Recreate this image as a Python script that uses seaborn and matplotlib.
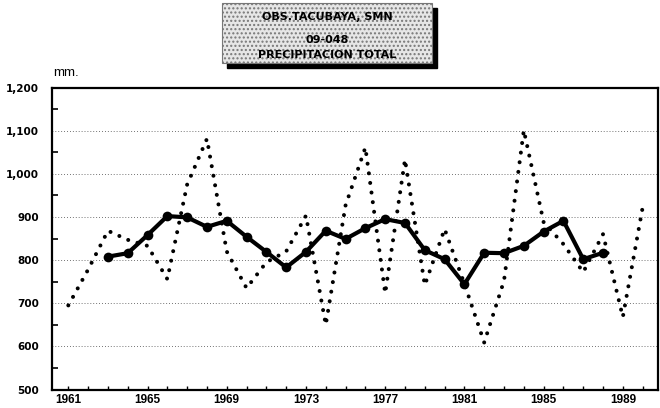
import matplotlib
matplotlib.use("Agg")
import matplotlib.pyplot as plt
import matplotlib.patches as mpatches
import seaborn as sns
import pandas as pd

# annual precipitation (mm)
years = list(range(1961, 1991))
precip = [695, 778, 868, 847, 833, 756, 975, 1081, 820, 735,
          795, 820, 903, 650, 927, 1061, 723, 1033, 742, 872,
          745, 609, 752, 1101, 888, 837, 772, 860, 668, 922]

# 5 year moving average, as drawn (1963-1988)
ma_years = list(range(1963, 1989))
ma_precip = [808, 816, 858, 902, 899, 877, 891, 854, 819, 783,
             819, 868, 849, 874, 895, 886, 823, 802, 744, 817,
             816, 833, 866, 891, 802, 817]

y_ticks = [500, 600, 700, 800, 900, 1000, 1100, 1200]
y_labels = ["500", "600", "700", "800", "900", "1,000", "1,100", "1,200"]
x_labels = [str(y) if (y - 1961) % 4 == 0 else "" for y in years]

title_lines = ["OBS.TACUBAYA, SMN", "09-048", "PRECIPITACION TOTAL"]

annual = pd.DataFrame({"anio": years, "mm": precip})
media = pd.DataFrame({"anio": ma_years, "mm": ma_precip})

sns.set_style("white")
plt.rcParams["text.color"] = "black"
fig = plt.figure(figsize=(6.6, 4.08), dpi=100)
ax = fig.add_axes([0.0783, 0.0453, 0.9182, 0.7402])

# dotted annual series
sns.lineplot(data=annual, x="anio", y="mm", ax=ax, color="black",
             linewidth=2.9, linestyle=(0, (0.01, 2.4)), dash_capstyle="round")
# moving average, thick solid with big dots
sns.lineplot(data=media, x="anio", y="mm", ax=ax, color="black",
             linewidth=3, marker="o", markersize=7, markeredgewidth=0,
             solid_capstyle="round", solid_joinstyle="round")

ax.set_xlim(1960.16, 1990.76)
ax.set_ylim(500, 1200)
ax.set_xlabel("")
ax.set_ylabel("")

ax.set_yticks(y_ticks)
ax.set_yticklabels(y_labels, fontweight="bold", fontsize=7.5, family="DejaVu Sans", color="black")
ax.set_yticks(range(550, 1200, 100), minor=True)
ax.set_xticks(years)
ax.set_xticklabels(x_labels, fontweight="bold", fontsize=8.5, family="Liberation Sans", color="black")

ax.tick_params(axis="y", which="major", direction="in", length=5, width=1.2, pad=9, colors="black")
ax.tick_params(axis="y", which="minor", direction="in", length=4, width=1.2, left=True, colors="black")
ax.tick_params(axis="x", which="major", direction="in", length=3, width=1, pad=3, bottom=True, colors="black")

for gy in y_ticks[1:-1]:
    ax.axhline(gy, color="#444444", linewidth=0.6, linestyle=(0, (1, 2.5)), zorder=0)

for sp in ax.spines.values():
    sp.set_visible(True)
    sp.set_color("black")
    sp.set_linewidth(1.6)

fig.text(0.080, 0.821, "mm.", fontsize=9.5, family="Liberation Sans", va="center", ha="left", color="black")

# title box with shadow
shadow = mpatches.Rectangle((227 / 660, 1 - 68 / 408), 210 / 660, 60 / 408,
                            transform=fig.transFigure, facecolor="black",
                            edgecolor="black", zorder=1)
box = mpatches.Rectangle((222 / 660, 1 - 63 / 408), 210 / 660, 60 / 408,
                         transform=fig.transFigure, facecolor="#e6e6e6",
                         edgecolor="#777777", hatch="....", linewidth=0.8, zorder=2)
fig.patches.extend([shadow, box])
for txt, ty in zip(title_lines, [17, 40, 55]):
    fig.text(327 / 660, 1 - ty / 408, txt, fontsize=8, fontweight="heavy",
             family="DejaVu Sans", ha="center", va="center", zorder=3, color="black")

fig.savefig("out.png", dpi=100)
